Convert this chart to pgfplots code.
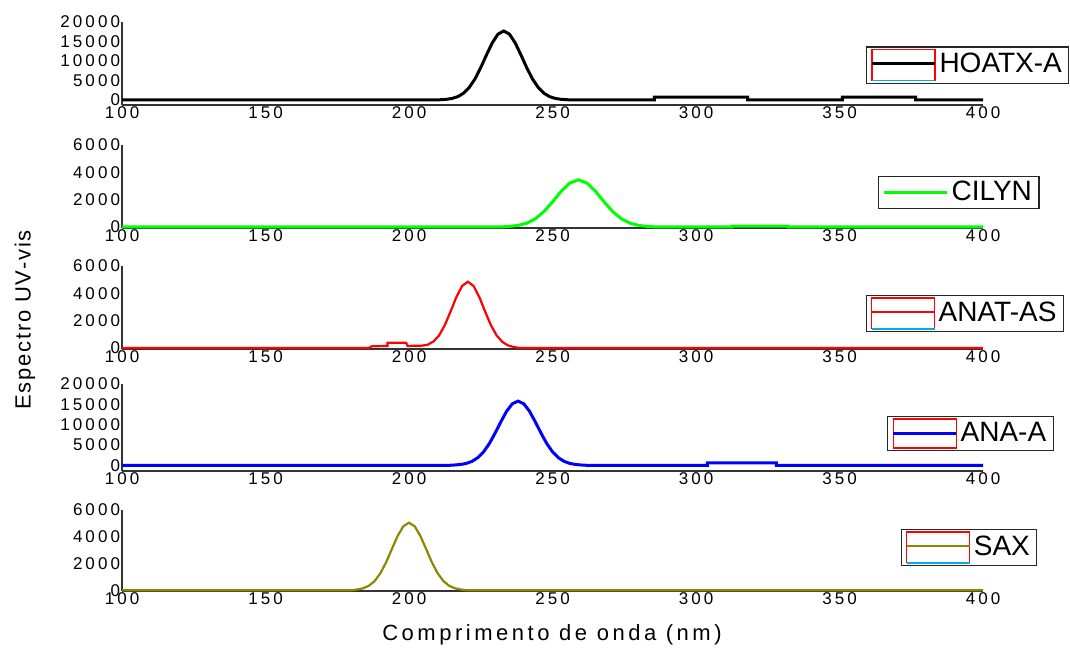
\documentclass[border=0pt]{standalone}
\usepackage{pgfplots}
\pgfplotsset{compat=1.18}
\usepackage{fontspec}
\setmainfont{Liberation Sans}
\newfontfamily\tickfont[LetterSpace=18]{Liberation Sans}
\newfontfamily\labfont[LetterSpace=8]{Liberation Sans}
\newfontfamily\xlabfont[LetterSpace=16]{Liberation Sans}

\pgfplotsset{
  panel/.style={
    scale only axis, width=430.5pt,
    xmin=100, xmax=400, xtick={100,150,...,400},
    axis x line=bottom, axis y line=left,
    axis line style={-, black!80, line width=0.6pt},
    major tick length=0pt,
    tick label style={font=\tickfont\fontsize{8.5}{9}\selectfont, black},
    /pgf/number format/assume math mode=true,
    /pgf/number format/set thousands separator={},
    scaled y ticks=false,
    xticklabel style={inner sep=0.8pt, anchor=north},
    yticklabel style={inner sep=0.8pt, anchor=east},
    legend cell align=left,
    legend style={anchor=west, draw=black!85, line width=0.6pt,
      font=\fontsize{14}{15}\selectfont, inner xsep=2pt, inner ysep=1pt,
      nodes={inner sep=1.5pt}},
  },
  legbox/.style={legend image code/.code={
    \draw[red,line width=0.6pt] (0pt,-8pt) -- (0pt,7.5pt) -- (31.5pt,7.5pt) -- (31.5pt,-8pt);
    \draw[cyan,line width=0.6pt] (0pt,-8pt) -- (31.5pt,-8pt);
    \draw[##1] (0pt,0.5pt) -- (31.5pt,0.5pt);}},
  legrect/.style={legend image code/.code={
    \draw[red,line width=0.6pt] (0pt,-7.25pt) rectangle (31.5pt,7.25pt);
    \draw[##1] (0pt,0pt) -- (31.5pt,0pt);}},
  legline/.style={legend image code/.code={
    \draw[##1] (0pt,0pt) -- (31.5pt,0pt);}},
}

\begin{document}
\begin{tikzpicture}
\useasboundingbox (0pt,0pt) rectangle (535pt,-325pt);

% HOATX-A
\begin{axis}[panel, at={(61pt,-11pt)}, anchor=north west, height=41.5pt,
  ymin=-1300, ymax=20000, ytick={0,5000,...,20000}, legbox,
  legend style={at={(0.864,0.482)}}]
\addplot[black, line width=1.5pt] coordinates {
 (100,0)(209,0)(211,57)(213,156)(215,385)(217,850)(219,1730)(221,3220)
 (223,5420)(225,8300)(227,11560)(229,14640)(231,16890)(233,17700)(235,16890)
 (237,14640)(239,11560)(241,8300)(243,5420)(245,3220)(247,1730)(249,850)
 (251,385)(253,156)(255,57)(257,0)(285.5,0)(285.5,700)(318,700)(318,0)
 (351,0)(351,700)(376.5,700)(376.5,0)(400,0)};
\addlegendentry{HOATX-A}
\end{axis}

% CILYN
\begin{axis}[panel, at={(61pt,-72.5pt)}, anchor=north west, height=41.5pt,
  ymin=-80, ymax=6000, ytick={0,2000,4000,6000}, legline,
  legend style={at={(0.878,0.428)}}]
\addplot[green, line width=1.5pt] coordinates {
 (100,0)(232,0)(235,38)(238,110)(241,275)(244,593)(247,1121)(250,1832)
 (253,2605)(256,3215)(259,3450)(262,3215)(265,2605)(268,1832)(271,1121)
 (274,593)(277,275)(280,110)(283,38)(286,0)(312.5,0)(312.5,60)(332,60)
 (332,0)(400,0)};
\addlegendentry{CILYN}
\end{axis}

% ANAT-AS
\begin{axis}[panel, at={(61pt,-133pt)}, anchor=north west, height=41.5pt,
  ymin=-75, ymax=6000, ytick={0,2000,4000,6000}, legbox,
  legend style={at={(0.864,0.428)}}]
\addplot[red, line width=1.1pt] coordinates {
 (100,0)(186,0)(187,120)(192.5,150)(192.5,380)(199,380)(199.5,150)
 (204.5,170)(206.5,240)(208.5,470)(210.5,926)(212.5,1683)(214.5,2677)
 (216.5,3725)(218.5,4540)(220.5,4850)(222.5,4540)(224.5,3725)(226.5,2677)
 (228.5,1683)(230.5,926)(232.5,449)(234.5,189)(236.5,70)(238.5,0)(400,0)};
\addlegendentry{ANAT-AS}
\end{axis}

% ANA-A
\begin{axis}[panel, at={(61pt,-192pt)}, anchor=north west, height=43.5pt,
  ymin=-1400, ymax=20000, ytick={0,5000,...,20000}, legrect,
  legend style={at={(0.8885,0.431)}}]
\addplot[blue, line width=1.5pt] coordinates {
 (100,0)(214,0)(216,85)(218,210)(220,477)(222,990)(224,1900)(226,3330)
 (228,5360)(230,7920)(232,10710)(234,13290)(236,15140)(238,15800)
 (240,15140)(242,13290)(244,10710)(246,7920)(248,5360)(250,3330)
 (252,1900)(254,990)(256,477)(258,210)(260,85)(262,0)(304,0)(304,600)
 (328,600)(328,0)(400,0)};
\addlegendentry{ANA-A}
\end{axis}

% SAX
\begin{axis}[panel, at={(61pt,-255pt)}, anchor=north west, height=40.5pt,
  ymin=-60, ymax=6000, ytick={0,2000,4000,6000}, legbox,
  legend style={at={(0.9048,0.537)}}]
\addplot[olive, line width=1.1pt] coordinates {
 (100,0)(180,0)(182,56)(184,144)(186,332)(188,681)(190,1258)(192,2075)
 (194,3066)(196,4045)(198,4778)(200,5050)(202,4778)(204,4045)(206,3066)
 (208,2075)(210,1258)(212,681)(214,332)(216,144)(218,56)(220,0)(400,0)};
\addlegendentry{SAX}
\end{axis}

\node[font=\xlabfont\fontsize{11}{12}\selectfont] at (276pt,-317.5pt) {Comprimento de onda (nm)};
\node[font=\labfont\fontsize{11}{12}\selectfont, rotate=90] at (12.5pt,-160pt) {Espectro UV-vis};
\end{tikzpicture}
\end{document}
